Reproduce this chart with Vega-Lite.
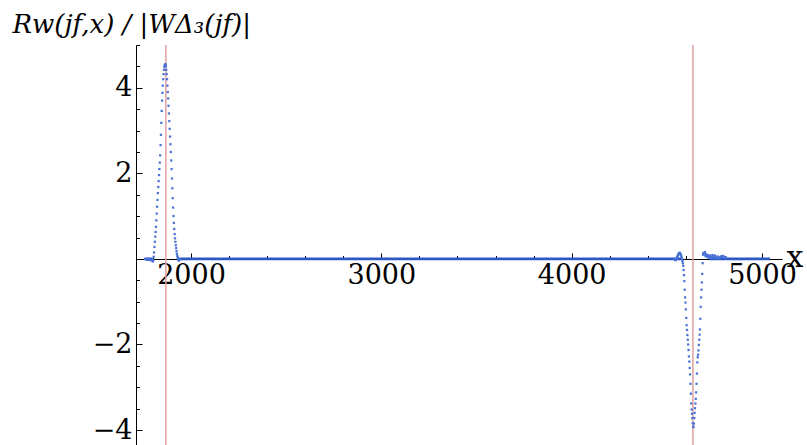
{
  "$schema": "https://vega.github.io/schema/vega-lite/v6.json",
  "width": 646,
  "height": 400,
  "autosize": {"type": "none"},
  "padding": {"left": 136, "top": 45, "right": 25, "bottom": 0},
  "background": "white",
  "config": {
    "view": {"stroke": null},
    "font": "DejaVu Serif",
    "axis": {
      "labelFont": "DejaVu Serif",
      "titleFont": "DejaVu Serif",
      "labelColor": "black",
      "titleColor": "black",
      "tickColor": "black",
      "domainColor": "black",
      "grid": false,
      "labelFontSize": 27,
      "titleFontSize": 27,
      "titleFontWeight": "normal",
      "labelFlush": false,
      "labelOverlap": false
    }
  },
  "datasets": {
    "guides": [{"x": 1868}, {"x": 4637}],
    "flat": [
      {"seg": "a", "x": 1758, "y": 0}, {"seg": "a", "x": 1798, "y": 0},
      {"seg": "b", "x": 1934, "y": 0}, {"seg": "b", "x": 4580, "y": 0},
      {"seg": "c", "x": 4722, "y": 0}, {"seg": "c", "x": 5042, "y": 0}
    ],
    "pts": [
      {"x": 1758, "y": 0.0}, {"x": 1762, "y": -0.01}, {"x": 1766, "y": 0.0}, {"x": 1770, "y": -0.02}, {"x": 1774, "y": 0.0},
      {"x": 1778, "y": -0.02}, {"x": 1782, "y": -0.01}, {"x": 1786, "y": -0.03}, {"x": 1790, "y": -0.02}, {"x": 1794, "y": -0.03},
      {"x": 1798, "y": -0.04}, {"x": 1800, "y": -0.06}, {"x": 1802, "y": -0.03}, {"x": 1804, "y": 0.05}, {"x": 1806, "y": 0.15},
      {"x": 1808, "y": 0.28}, {"x": 1810, "y": 0.40}, {"x": 1812, "y": 0.52}, {"x": 1814, "y": 0.63}, {"x": 1816, "y": 0.75},
      {"x": 1818, "y": 0.90}, {"x": 1820, "y": 1.06}, {"x": 1822, "y": 1.22}, {"x": 1824, "y": 1.38}, {"x": 1826, "y": 1.54},
      {"x": 1828, "y": 1.68}, {"x": 1830, "y": 1.82}, {"x": 1832, "y": 1.96}, {"x": 1834, "y": 2.10}, {"x": 1836, "y": 2.25},
      {"x": 1838, "y": 2.42}, {"x": 1840, "y": 2.66}, {"x": 1842, "y": 2.90}, {"x": 1844, "y": 3.18}, {"x": 1846, "y": 3.46},
      {"x": 1848, "y": 3.70}, {"x": 1850, "y": 3.88}, {"x": 1852, "y": 4.05}, {"x": 1854, "y": 4.20}, {"x": 1856, "y": 4.32},
      {"x": 1858, "y": 4.42}, {"x": 1860, "y": 4.49}, {"x": 1862, "y": 4.53}, {"x": 1864, "y": 4.55}, {"x": 1866, "y": 4.54},
      {"x": 1868, "y": 4.50}, {"x": 1870, "y": 4.42}, {"x": 1872, "y": 4.32}, {"x": 1874, "y": 4.20}, {"x": 1876, "y": 4.05},
      {"x": 1878, "y": 3.90}, {"x": 1880, "y": 3.75}, {"x": 1882, "y": 3.58}, {"x": 1884, "y": 3.40}, {"x": 1886, "y": 3.22},
      {"x": 1888, "y": 3.04}, {"x": 1890, "y": 2.86}, {"x": 1892, "y": 2.68}, {"x": 1894, "y": 2.50}, {"x": 1896, "y": 2.30},
      {"x": 1898, "y": 2.10}, {"x": 1900, "y": 1.88}, {"x": 1902, "y": 1.65}, {"x": 1904, "y": 1.42}, {"x": 1906, "y": 1.20},
      {"x": 1908, "y": 1.00}, {"x": 1910, "y": 0.84}, {"x": 1912, "y": 0.70}, {"x": 1914, "y": 0.58}, {"x": 1916, "y": 0.48},
      {"x": 1918, "y": 0.40}, {"x": 1920, "y": 0.32}, {"x": 1922, "y": 0.25}, {"x": 1924, "y": 0.18}, {"x": 1926, "y": 0.12},
      {"x": 1928, "y": 0.07}, {"x": 1930, "y": 0.03}, {"x": 1932, "y": 0.00}, {"x": 1934, "y": -0.03}, {"x": 1936, "y": -0.04},
      {"x": 1938, "y": -0.02}, {"x": 1940, "y": 0.00},
      {"x": 4540, "y": 0.00}, {"x": 4542, "y": -0.01}, {"x": 4544, "y": -0.02}, {"x": 4546, "y": -0.03}, {"x": 4548, "y": -0.02},
      {"x": 4550, "y": 0.00}, {"x": 4552, "y": 0.02}, {"x": 4554, "y": 0.04}, {"x": 4556, "y": 0.06}, {"x": 4558, "y": 0.08},
      {"x": 4560, "y": 0.10}, {"x": 4562, "y": 0.12}, {"x": 4564, "y": 0.13}, {"x": 4566, "y": 0.14}, {"x": 4568, "y": 0.14},
      {"x": 4570, "y": 0.13}, {"x": 4572, "y": 0.11}, {"x": 4574, "y": 0.09}, {"x": 4576, "y": 0.06}, {"x": 4578, "y": 0.03},
      {"x": 4580, "y": 0.00}, {"x": 4582, "y": -0.05}, {"x": 4584, "y": -0.10}, {"x": 4586, "y": -0.16}, {"x": 4588, "y": -0.26},
      {"x": 4590, "y": -0.38}, {"x": 4592, "y": -0.52}, {"x": 4594, "y": -0.72}, {"x": 4596, "y": -0.90}, {"x": 4598, "y": -1.02},
      {"x": 4600, "y": -1.18}, {"x": 4602, "y": -1.38}, {"x": 4604, "y": -1.55}, {"x": 4606, "y": -1.66}, {"x": 4608, "y": -1.78},
      {"x": 4610, "y": -1.89}, {"x": 4612, "y": -2.00}, {"x": 4614, "y": -2.13}, {"x": 4616, "y": -2.28}, {"x": 4618, "y": -2.40},
      {"x": 4620, "y": -2.55}, {"x": 4622, "y": -2.70}, {"x": 4624, "y": -2.92}, {"x": 4626, "y": -3.15}, {"x": 4628, "y": -3.38},
      {"x": 4630, "y": -3.52}, {"x": 4632, "y": -3.62}, {"x": 4634, "y": -3.72}, {"x": 4636, "y": -3.84}, {"x": 4638, "y": -3.92},
      {"x": 4640, "y": -3.93}, {"x": 4642, "y": -3.85}, {"x": 4644, "y": -3.72}, {"x": 4646, "y": -3.60}, {"x": 4648, "y": -3.49},
      {"x": 4650, "y": -3.38}, {"x": 4652, "y": -3.27}, {"x": 4654, "y": -3.12}, {"x": 4656, "y": -2.92}, {"x": 4658, "y": -2.68},
      {"x": 4660, "y": -2.42}, {"x": 4662, "y": -2.30}, {"x": 4664, "y": -2.24}, {"x": 4666, "y": -2.14}, {"x": 4668, "y": -2.01},
      {"x": 4670, "y": -1.89}, {"x": 4672, "y": -1.77}, {"x": 4674, "y": -1.65}, {"x": 4676, "y": -1.40}, {"x": 4678, "y": -1.12},
      {"x": 4680, "y": -0.90}, {"x": 4682, "y": -0.72}, {"x": 4684, "y": -0.55}, {"x": 4686, "y": -0.35}, {"x": 4688, "y": -0.10},
      {"x": 4690, "y": 0.10}, {"x": 4692, "y": 0.14}, {"x": 4694, "y": 0.12}, {"x": 4696, "y": 0.10}, {"x": 4698, "y": 0.13},
      {"x": 4700, "y": 0.16}, {"x": 4702, "y": 0.12}, {"x": 4704, "y": 0.06}, {"x": 4706, "y": 0.08}, {"x": 4708, "y": 0.10},
      {"x": 4710, "y": 0.06}, {"x": 4712, "y": 0.09}, {"x": 4714, "y": 0.07}, {"x": 4716, "y": 0.04}, {"x": 4718, "y": 0.08},
      {"x": 4720, "y": 0.06}, {"x": 4722, "y": 0.03}, {"x": 4725, "y": 0.06}, {"x": 4728, "y": 0.08}, {"x": 4731, "y": 0.05},
      {"x": 4734, "y": 0.02}, {"x": 4737, "y": 0.05}, {"x": 4740, "y": 0.09}, {"x": 4743, "y": 0.06}, {"x": 4746, "y": 0.03},
      {"x": 4749, "y": 0.06}, {"x": 4752, "y": 0.08}, {"x": 4755, "y": 0.04}, {"x": 4758, "y": 0.02}, {"x": 4762, "y": 0.04},
      {"x": 4766, "y": 0.06}, {"x": 4770, "y": 0.03}, {"x": 4775, "y": 0.02}, {"x": 4780, "y": 0.04}, {"x": 4785, "y": 0.06},
      {"x": 4790, "y": 0.05}, {"x": 4795, "y": 0.07}, {"x": 4800, "y": 0.05}, {"x": 4805, "y": 0.03}, {"x": 4810, "y": 0.04}
    ]
  },
  "layer": [
    {
      "data": {"name": "guides"},
      "mark": {"type": "rule", "color": "#e3a0a0", "strokeWidth": 1.5},
      "encoding": {
        "x": {
          "field": "x", "type": "quantitative",
          "scale": {"domain": [1711, 5105], "nice": false, "zero": false},
          "axis": {
            "orient": "bottom", "offset": -186, "values": [2000, 3000, 4000, 5000],
            "tickSize": -6, "labelPadding": 9, "format": "d",
            "title": "x", "titleAlign": "left", "titleBaseline": "alphabetic",
            "titleX": 650, "titleY": 7, "titleFontSize": 30
          }
        }
      }
    },
    {
      "data": {"name": "flat"},
      "mark": {"type": "line", "color": "#2c58c4", "strokeWidth": 2.8},
      "encoding": {
        "x": {
          "field": "x", "type": "quantitative",
          "scale": {"domain": [1711, 5105], "nice": false, "zero": false},
          "axis": {
            "orient": "bottom", "offset": -186,
            "values": [1800, 2200, 2400, 2600, 2800, 3200, 3400, 3600, 3800, 4200, 4400, 4600, 4800],
            "tickSize": -3.5, "labels": false, "domain": false, "title": null
          }
        },
        "y": {
          "field": "y", "type": "quantitative",
          "scale": {"domain": [-4.35, 5.0], "nice": false, "zero": false},
          "axis": {
            "orient": "left",
            "values": [-3.5, -3, -2.5, -1.5, -1, -0.5, 0.5, 1, 1.5, 2.5, 3, 3.5, 4.5, 5],
            "tickSize": -3.5, "labels": false, "domain": false, "title": null
          }
        },
        "detail": {"field": "seg", "type": "nominal"}
      }
    },
    {
      "data": {"name": "pts"},
      "mark": {"type": "point", "shape": "square", "filled": true, "size": 5, "color": "#4a72d6", "opacity": 1},
      "encoding": {
        "x": {
          "field": "x", "type": "quantitative",
          "scale": {"domain": [1711, 5105], "nice": false, "zero": false},
          "axis": null
        },
        "y": {
          "field": "y", "type": "quantitative",
          "scale": {"domain": [-4.35, 5.0], "nice": false, "zero": false},
          "axis": {
            "orient": "left", "values": [-4, -2, 2, 4],
            "tickSize": -6, "labelPadding": 10,
            "title": "Rw(jf,x) / |WΔ₃(jf)|", "titleAngle": 0, "titleAlign": "left",
            "titleBaseline": "alphabetic", "titleX": -124, "titleY": -13,
            "titleFontStyle": "italic", "titleFontSize": 26
          }
        }
      }
    }
  ],
  "resolve": {"axis": {"x": "independent", "y": "independent"}}
}
